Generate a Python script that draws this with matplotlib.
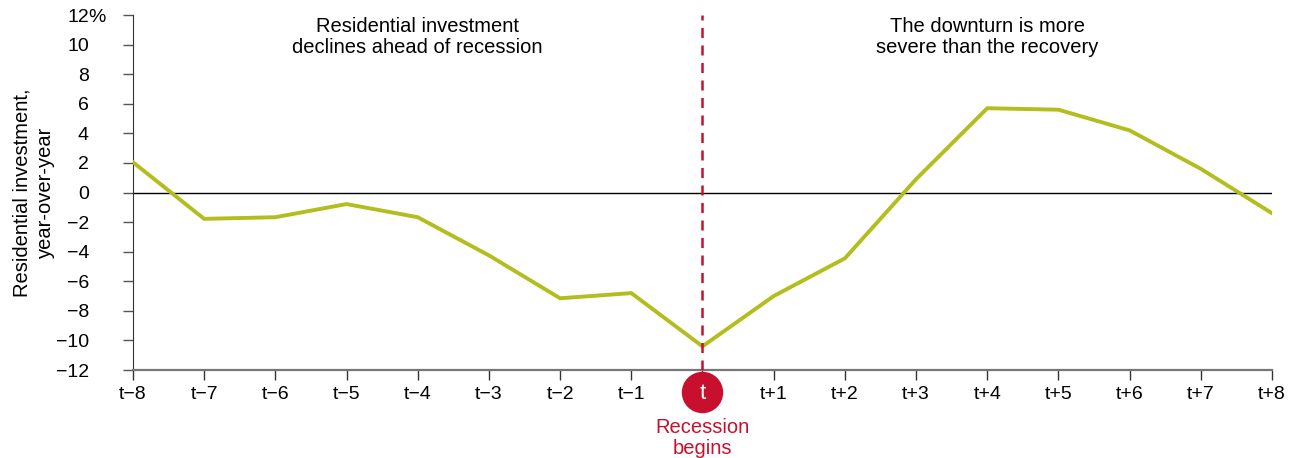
import matplotlib

matplotlib.use("Agg")
import matplotlib.pyplot as plt
from matplotlib.transforms import offset_copy

plt.rcParams["font.family"] = ["Liberation Sans", "DejaVu Sans"]

# --- data ---
periods = list(range(-8, 9))
tick_labels = ["t\u22128", "t\u22127", "t\u22126", "t\u22125", "t\u22124", "t\u22123",
               "t\u22122", "t\u22121", "", "t+1", "t+2", "t+3", "t+4", "t+5",
               "t+6", "t+7", "t+8"]
resi_yoy = [2.05, -1.78, -1.67, -0.78, -1.67, -4.25, -7.15, -6.8, -10.4,
            -7.0, -4.45, 0.9, 5.7, 5.6, 4.2, 1.6, -1.4]
y_ticks = [-12, -10, -8, -6, -4, -2, 0, 2, 4, 6, 8, 10, 12]
y_labels = ["\u221212", "\u221210", "\u22128", "\u22126", "\u22124", "\u22122",
            "0", "2", "4", "6", "8", "10", "12"]

GREEN = "#b3bd1d"
RED = "#c8102e"
PX = 0.72  # points per pixel at dpi 100

fig = plt.figure(figsize=(12.96, 4.58), dpi=100)
ax = fig.add_axes([0.1026, 0.1921, 0.8789, 0.7751])

ax.plot(periods, resi_yoy, color=GREEN, lw=2.8, solid_joinstyle="miter", zorder=3)
ax.axhline(0, color="black", lw=1.0, zorder=2)
ax.axvline(0, color=RED, lw=1.8, ls=(0, (4, 3)), zorder=4)

ax.set_xlim(-8, 8)
ax.set_ylim(-12, 12)
ax.set_xticks(periods)
ax.set_xticklabels(tick_labels)
ax.set_yticks(y_ticks)
ax.set_yticklabels(y_labels)

for side in ("top", "right"):
    ax.spines[side].set_visible(False)
ax.spines["left"].set_color("#333333")
ax.spines["bottom"].set_color("#777777")
ax.spines["bottom"].set_linewidth(1.6)
ax.tick_params(axis="y", direction="out", length=10 * PX, width=1, color="#555555",
               labelsize=14, pad=34 * PX)
ax.tick_params(axis="x", direction="out", length=10 * PX, width=1, color="#333333",
               labelsize=14, pad=4)

# percent sign hangs to the right of the top tick label
ax.text(0, 12, "%", transform=offset_copy(ax.get_yaxis_transform(), fig=fig,
        x=-44.5 * PX, y=0, units="points"), ha="left", va="center_baseline",
        fontsize=14, clip_on=False)

ax.set_ylabel("Residential investment,\nyear-over-year", fontsize=14.5,
              linespacing=1.3)
ax.yaxis.set_label_coords(-0.0685, 0.5)

# recession marker below the axis at t
below = offset_copy(ax.transData, fig=fig, x=0, y=-22 * PX, units="points")
ax.plot([0], [-12], marker="o", ms=40 * PX, color=RED, mec=RED,
        transform=below, clip_on=False, zorder=5)
ax.text(0, -12, "t", transform=offset_copy(ax.transData, fig=fig, x=0,
        y=-23 * PX, units="points"), ha="center", va="center", color="white",
        fontsize=16, zorder=6, clip_on=False)
ax.text(0, -12, "Recession\nbegins", transform=offset_copy(ax.transData, fig=fig,
        x=0, y=-48 * PX, units="points"), ha="center", va="top", color=RED,
        fontsize=14.5, linespacing=1.1, clip_on=False)

ax.text(-4, 11.9, "Residential investment\ndeclines ahead of recession",
        ha="center", va="top", fontsize=14.5, linespacing=1.15)
ax.text(4, 11.9, "The downturn is more\nsevere than the recovery",
        ha="center", va="top", fontsize=14.5, linespacing=1.15)

fig.savefig("out.png", dpi=100)
